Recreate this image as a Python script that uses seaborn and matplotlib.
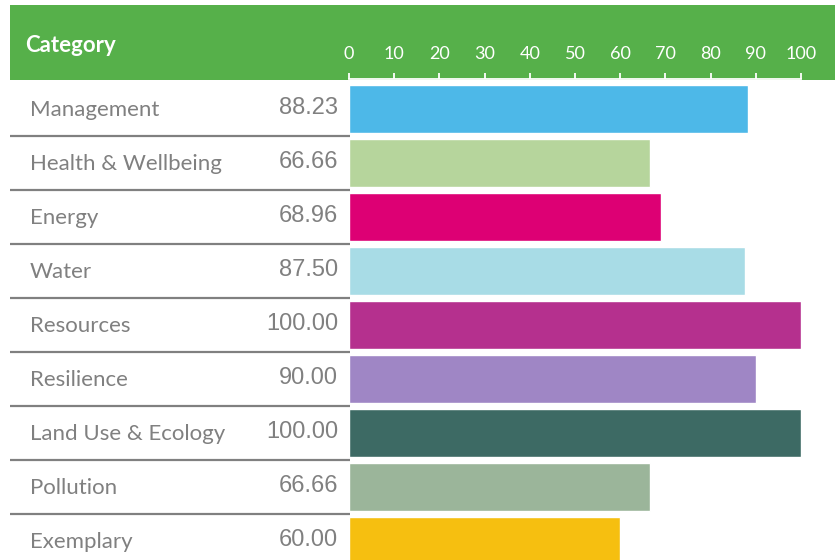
import matplotlib
matplotlib.use("Agg")
import matplotlib.pyplot as plt
import matplotlib.transforms as mtransforms
from matplotlib.patches import Rectangle
import seaborn as sns

# datos del grafico
categories = ["Management", "Health & Wellbeing", "Energy", "Water", "Resources",
              "Resilience", "Land Use & Ecology", "Pollution", "Exemplary"]
scores = [88.23, 66.66, 68.96, 87.50, 100.00, 90.00, 100.00, 66.66, 60.00]
score_labels = ["88.23", "66.66", "68.96", "87.50", "100.00", "90.00", "100.00", "66.66", "60.00"]
bar_colors = ["#4db8e8", "#b6d59c", "#dd0074", "#a8dce6", "#b5308e",
              "#9f86c5", "#3d6a64", "#9bb59a", "#f6bf10"]
ticks = [0, 10, 20, 30, 40, 50, 60, 70, 80, 90, 100]

sns.set_style("white")
plt.rcParams['font.family'] = ['Lato', 'DejaVu Sans']

W, H = 840, 560
fig = plt.figure(figsize=(8.4, 5.6), dpi=100)

# ejes de las barras (en pixeles de la figura)
x0, x1 = 349, 801
top = 82
ax = fig.add_axes([x0 / W, 0, (x1 - x0) / W, 1 - top / H])
ax.patch.set_visible(False)
ax.set_zorder(3)

sns.barplot(x=scores, y=categories, hue=categories, palette=bar_colors, orient="h",
            width=0.9, saturation=1, legend=False, ax=ax)

row_h = 54
ax.set_xlim(0, 100)
ax.set_ylim(-0.5 + (H - top) / row_h, -0.5)
ax.set_yticks([])
ax.set_xlabel("")
ax.set_ylabel("")

# eje superior blanco sobre la banda verde
ax.xaxis.set_ticks_position("top")
ax.set_xticks(ticks)
ax.set_xticklabels([str(t) for t in ticks])
ax.tick_params(axis="x", colors="white", length=4, width=1.3, pad=8, labelsize=13)
for s in ["left", "right", "bottom"]:
    ax.spines[s].set_visible(False)
ax.spines["top"].set_color("white")
ax.spines["top"].set_linewidth(1.3)
ax.spines["top"].set_position(("outward", 2.2))

# banda verde del encabezado
fig.patches.append(Rectangle((10 / W, 1 - 80 / H), 825 / W, 75 / H,
                             transform=fig.transFigure, facecolor="#56b04a",
                             edgecolor="none", zorder=1))
fig.text(25 / W, 1 - 46 / H, "Category", color="white", fontsize=16,
         fontweight="bold", va="center", ha="left", zorder=4)

# etiquetas, valores y separadores
trans = mtransforms.blended_transform_factory(fig.transFigure, ax.transData)
for i, (cat, lab) in enumerate(zip(categories, score_labels)):
    ax.text(30 / W, i + 0.02, cat, transform=trans, color="#808080", fontsize=16,
            va="center", ha="left", clip_on=False)
    ax.text(338 / W, i - 0.02, lab, transform=trans, color="#808080", fontsize=17,
            family=["Liberation Sans", "DejaVu Sans"], va="center", ha="right",
            clip_on=False)
for i in range(len(categories) - 1):
    ax.plot([10 / W, 350 / W], [i + 0.5, i + 0.5], transform=trans, color="#808080",
            linewidth=1.6, clip_on=False, solid_capstyle="butt")

plt.savefig("out.png", dpi=100)
